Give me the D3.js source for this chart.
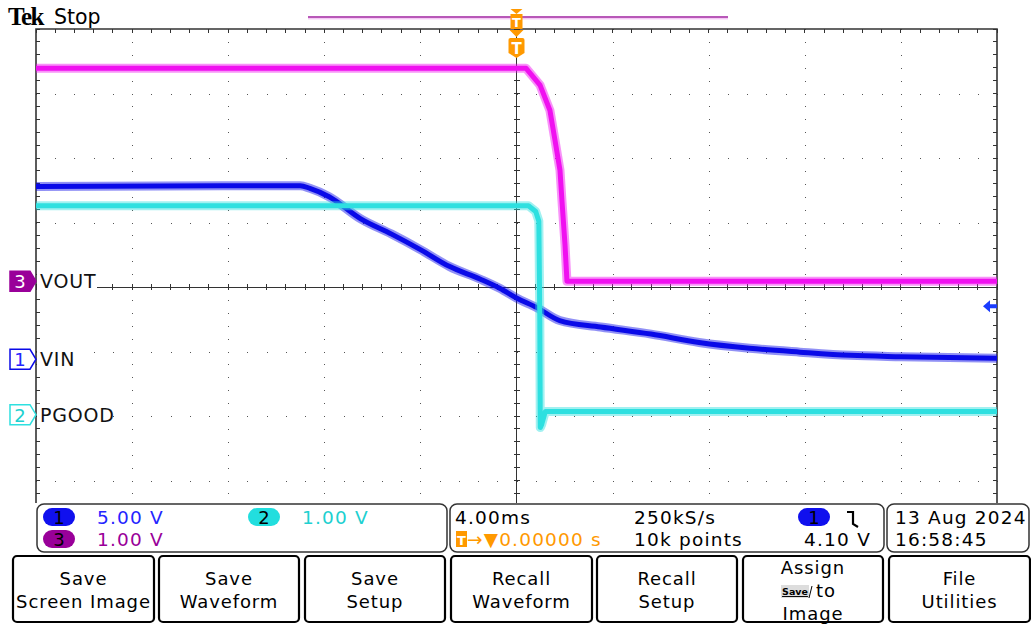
<!DOCTYPE html>
<html>
<head>
<meta charset="utf-8">
<script src="https://cdn.jsdelivr.net/npm/d3@7"></script>
<style>
  body { margin: 0; background: #fff; }
  svg { display: block; font-family: "DejaVu Sans", sans-serif; }
</style>
</head>
<body>
<svg id="scope" width="1031" height="624"></svg>
<script>
// time in ms (4.00 ms/div, trigger at 0), values in volts
const vinT   = [-20, -9.0, -8.6, -7.8, -6.5, -5.2, -4.0, -2.8, -1.5, -0.7, 0.0, 0.85, 1.8, 3.5, 5.6, 7.6, 9.7, 11.8, 13.9, 16.0, 20];
const vinV   = [13.4, 13.45, 13.25, 12.6, 10.9, 9.7, 8.5, 7.2, 6.2, 5.5, 4.75, 4.0, 3.0, 2.5, 1.95, 1.3, 0.85, 0.55, 0.3, 0.2, 0.08];
const pgoodT = [-20, 0.5, 0.8, 0.93, 0.97, 0.99, 1.05, 1.2, 20];
const pgoodV = [3.24, 3.24, 3.15, 3.0, 1.5, -0.2, -0.15, 0.05, 0.05];
const voutT  = [-20, 0.4, 0.98, 1.39, 1.6, 1.81, 1.89, 2.02, 2.1, 20];
const voutV  = [3.30, 3.30, 3.04, 2.65, 2.19, 1.72, 1.26, 0.56, 0.0, 0.0];

// channel settings: V/div and ground offset (divisions from centre)
const channels = [
  { id: "1", name: "VIN",   scale: 5.00, offset: -1.12, t: vinT,   v: vinV,   color: "#0a0ae8", text: "#2525ff", curve: d3.curveMonotoneX },
  { id: "2", name: "PGOOD", scale: 1.00, offset: -1.98, t: pgoodT, v: pgoodV, color: "#2ee0e0", text: "#20d0d0", curve: d3.curveLinear },
  { id: "3", name: "VOUT",  scale: 1.00, offset: 0.09,  t: voutT,  v: voutV,  color: "#f010f0", text: "#990099", curve: d3.curveLinear }
];

const buttons = [
  ["Save", "Screen Image"], ["Save", "Waveform"], ["Save", "Setup"],
  ["Recall", "Waveform"], ["Recall", "Setup"], ["Assign", "to", "Image"], ["File", "Utilities"]
];

const svg = d3.select("#scope");
const x = d3.scaleLinear().domain([-20, 20]).range([36, 997]);
const y = d3.scaleLinear().domain([-4, 4]).range([545, 29]);
const plotBottom = 503;

svg.append("clipPath").attr("id", "plot")
  .append("rect").attr("x", 36).attr("y", 29).attr("width", 961).attr("height", plotBottom - 29);

// graticule dots
const grid = svg.append("g").attr("fill", "#555").attr("shape-rendering", "crispEdges");
const minorX = d3.range(-20, 20.01, 0.8);
const minorY = d3.range(-4, 4.01, 0.2);
const dot = (px, py) => grid.append("rect").attr("x", Math.round(px)).attr("y", Math.round(py)).attr("width", 1).attr("height", 1);
[-3, -2, -1, 1, 2, 3].forEach(d => minorX.forEach(t => dot(x(t), y(d))));
[-16, -12, -8, -4, 4, 8, 12, 16].forEach(t => {
  minorY.filter(d => y(d) < plotBottom).forEach(d => dot(x(t), y(d)));
});

// centre lines with ticks
const axes = svg.append("g").attr("stroke", "#333").attr("stroke-width", 1).attr("shape-rendering", "crispEdges");
axes.append("line").attr("x1", x(0)).attr("x2", x(0)).attr("y1", 29).attr("y2", plotBottom);
axes.append("line").attr("x1", 36).attr("x2", 997).attr("y1", y(0)).attr("y2", y(0));
minorX.forEach(t => {
  axes.append("line").attr("x1", x(t)).attr("x2", x(t)).attr("y1", y(0) - 3).attr("y2", y(0) + 3);
  axes.append("line").attr("x1", x(t)).attr("x2", x(t)).attr("y1", 29).attr("y2", 33);
});
minorY.filter(d => y(d) < plotBottom).forEach(d => {
  axes.append("line").attr("x1", x(0) - 3).attr("x2", x(0) + 3).attr("y1", y(d)).attr("y2", y(d));
  axes.append("line").attr("x1", 993).attr("x2", 997).attr("y1", y(d)).attr("y2", y(d));
  axes.append("line").attr("x1", 36).attr("x2", 40).attr("y1", y(d)).attr("y2", y(d));
});
// frame
svg.append("path").attr("d", `M36,${plotBottom} V29 H997 V${plotBottom}`)
  .attr("fill", "none").attr("stroke", "#333").attr("stroke-width", 1.6);

// traces: a soft wide band plus a solid core
const traces = svg.append("g").attr("clip-path", "url(#plot)");
channels.forEach(ch => {
  const pts = ch.t.map((t, i) => [t, ch.v[i]]);
  const line = d3.line().curve(ch.curve).x(d => x(d[0])).y(d => y(ch.offset + d[1] / ch.scale));
  traces.append("path").datum(pts).attr("d", line)
    .attr("fill", "none").attr("stroke", ch.color).attr("stroke-width", 9)
    .attr("stroke-linejoin", "round").attr("opacity", 0.45);
  traces.append("path").datum(pts).attr("d", line)
    .attr("fill", "none").attr("stroke", ch.color).attr("stroke-width", 5).attr("stroke-linejoin", "round");
});

// channel labels and ground markers
channels.forEach(ch => {
  const gy = y(ch.offset);
  const g = svg.append("g");
  const tw = ch.name.length * 14;
  g.append("rect").attr("x", 37).attr("y", gy - 11).attr("width", tw + 4).attr("height", 21).attr("fill", "#fff");
  g.append("text").attr("x", 40).attr("y", gy + 7).attr("font-size", 19).attr("letter-spacing", 0.8).attr("fill", "#111").text(ch.name);
  const filled = ch.id === "3";
  g.append("path").attr("d", `M10,${gy - 10} H30 L36,${gy} L30,${gy + 10} H10 Z`)
    .attr("fill", filled ? ch.text : "#fff")
    .attr("stroke", filled ? ch.text : ch.color).attr("stroke-width", 1.5);
  g.append("text").attr("x", 20).attr("y", gy + 7).attr("text-anchor", "middle")
    .attr("font-size", 18).attr("fill", filled ? "#fff" : ch.text).text(ch.id);
});

// trigger level arrow (CH1 4.10 V)
const trigY = y(channels[0].offset + 4.10 / channels[0].scale);
svg.append("path").attr("d", `M983,${trigY} L990,${trigY - 6} V${trigY - 2} H997 V${trigY + 2} H990 V${trigY + 6} Z`).attr("fill", "#1a3cff");

// top: Tek Stop, record view, trigger markers
svg.append("text").attr("x", 8).attr("y", 25).attr("font-family", "Liberation Serif, serif")
  .attr("font-weight", "bold").attr("font-size", 25).attr("letter-spacing", -1.5).attr("fill", "#000").text("Tek");
svg.append("text").attr("x", 54).attr("y", 24).attr("font-size", 20.5).attr("fill", "#000").text("Stop");
svg.append("line").attr("x1", 308).attr("x2", 728).attr("y1", 17).attr("y2", 17).attr("stroke", "#a020a0").attr("stroke-width", 1.6);
svg.append("line").attr("x1", 308).attr("x2", 728).attr("y1", 18.8).attr("y2", 18.8).attr("stroke", "#f0b0f0").attr("stroke-width", 1);
const tx = x(0);
const orange = "#ff9900";
svg.append("path").attr("d", `M${tx - 6},9 H${tx + 6} L${tx},14 Z`).attr("fill", orange);
svg.append("rect").attr("x", tx - 6).attr("y", 14).attr("width", 12).attr("height", 15).attr("fill", orange);
svg.append("text").attr("x", tx).attr("y", 27).attr("text-anchor", "middle").attr("font-size", 13).attr("font-weight", "bold").attr("fill", "#fff").text("T");
svg.append("path").attr("d", `M${tx - 7},30 H${tx + 7} L${tx},37 Z`).attr("fill", orange);
svg.append("path").attr("d", `M${tx - 8},40 Q${tx - 8},38 ${tx - 6},38 H${tx + 6} Q${tx + 8},38 ${tx + 8},40 V53 L${tx},58 L${tx - 8},53 Z`).attr("fill", orange);
svg.append("text").attr("x", tx).attr("y", 54).attr("text-anchor", "middle").attr("font-size", 15).attr("font-weight", "bold").attr("fill", "#fff").text("T");

// status bar
const status = svg.append("g");
[[37, 447], [450, 884], [887, 1029]].forEach(([a, b]) => {
  status.append("rect").attr("x", a).attr("y", 504).attr("width", b - a).attr("height", 48)
    .attr("rx", 7).attr("fill", "#fff").attr("stroke", "#333").attr("stroke-width", 1.5);
});
function pill(cx, cy, fill, label) {
  status.append("rect").attr("x", cx - 16).attr("y", cy - 9).attr("width", 32).attr("height", 18).attr("rx", 9).attr("fill", fill);
  status.append("text").attr("x", cx).attr("y", cy + 6.5).attr("text-anchor", "middle").attr("font-size", 18).attr("fill", "#000").text(label);
}
pill(59, 517, "#1010ee", "1");
pill(264, 517, "#22dede", "2");
pill(59, 539, "#990099", "3");
const st = (xx, yy, txt, col, anchor) => status.append("text").attr("x", xx).attr("y", yy)
  .attr("font-size", 18.5).attr("letter-spacing", 1.2).attr("fill", col).attr("text-anchor", anchor || "start").text(txt);
st(97, 524, "5.00 V", channels[0].text);
st(302, 524, "1.00 V", channels[1].text);
st(97, 546, "1.00 V", channels[2].text);
st(455, 524, "4.00ms", "#000");
st(634, 524, "250kS/s", "#000");
pill(814, 517, "#1010ee", "1");
status.append("path").attr("d", "M847,512 H853 V524 L858,527").attr("fill", "none").attr("stroke", "#000").attr("stroke-width", 2.2);
status.append("rect").attr("x", 456).attr("y", 531).attr("width", 11).attr("height", 16).attr("fill", orange);
status.append("text").attr("x", 461.5).attr("y", 545).attr("text-anchor", "middle").attr("font-size", 13).attr("font-weight", "bold").attr("fill", "#fff").text("T");
st(467, 546, "→▼0.00000 s", orange);
st(634, 546, "10k points", "#000");
st(871, 546, "4.10 V", "#000", "end");
st(895, 524, "13 Aug 2024", "#000");
st(895, 546, "16:58:45", "#000");

// soft buttons
const bx = [13, 159, 305, 451, 597, 743, 889];
const bw = [141, 140, 140, 141, 140, 140, 141];
buttons.forEach((lines, i) => {
  const g = svg.append("g");
  const cx = bx[i] + bw[i] / 2;
  const bt = (yy, txt, anchor, xx) => g.append("text").attr("x", xx === undefined ? cx : xx).attr("y", yy)
    .attr("text-anchor", anchor).attr("font-size", 18).attr("letter-spacing", 0.9).text(txt);
  g.append("rect").attr("x", bx[i]).attr("y", 556).attr("width", bw[i]).attr("height", 66)
    .attr("rx", 4).attr("fill", "#fff").attr("stroke", "#000").attr("stroke-width", 2.2);
  if (lines.length === 2) {
    bt(585, lines[0], "middle");
    bt(608, lines[1], "middle");
  } else {
    bt(574, lines[0], "middle");
    g.append("rect").attr("x", cx - 32).attr("y", 585).attr("width", 28).attr("height", 13).attr("fill", "#ddd");
    g.append("text").attr("x", cx - 18).attr("y", 595).attr("text-anchor", "middle").attr("font-size", 9.5)
      .attr("font-weight", "bold").attr("text-decoration", "underline").text("Save");
    g.append("path").attr("d", `M${cx - 1},586 L${cx - 4},598`).attr("stroke", "#000").attr("fill", "none");
    bt(597, lines[1], "start", cx + 3);
    bt(620, lines[2], "middle");
  }
});
</script>
</body>
</html>
